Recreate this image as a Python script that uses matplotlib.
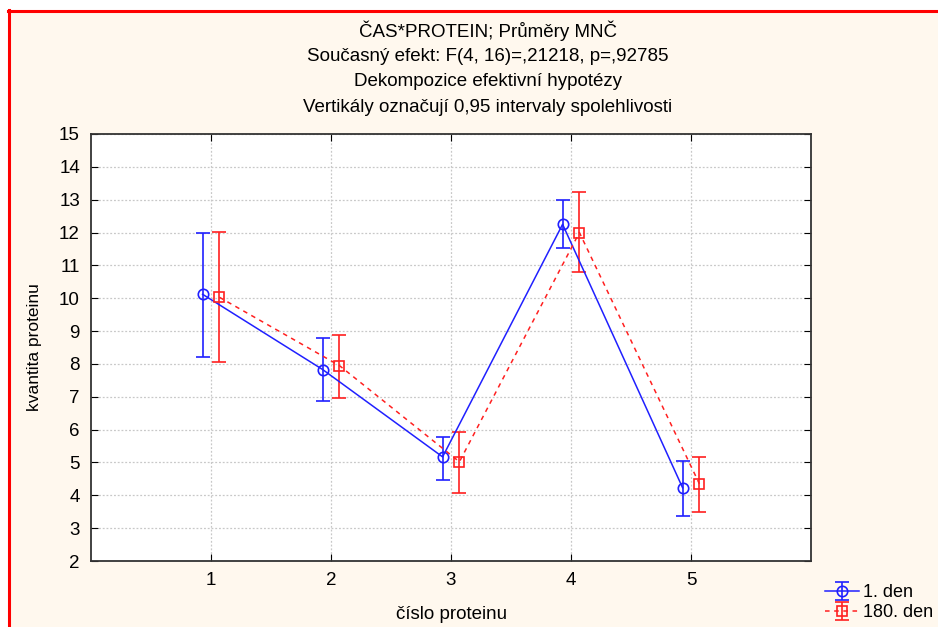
import matplotlib.pyplot as plt
from matplotlib.patches import Rectangle
import numpy as np

# data
protein = [1, 2, 3, 4, 5]
day1_mean = [10.12, 7.83, 5.17, 12.25, 4.23]
day1_low = [8.22, 6.87, 4.48, 11.52, 3.38]
day1_high = [11.98, 8.78, 5.76, 12.98, 5.03]
day180_mean = [10.03, 7.95, 5.02, 12.0, 4.35]
day180_low = [8.07, 6.97, 4.08, 10.8, 3.48]
day180_high = [12.02, 8.88, 5.94, 13.23, 5.17]

title_lines = ['ČAS*PROTEIN; Průměry MNČ',
               'Současný efekt: F(4, 16)=,21218, p=,92785',
               'Dekompozice efektivní hypotézy',
               'Vertikály označují 0,95 intervaly spolehlivosti']

plt.rcParams['font.family'] = ['Liberation Sans', 'DejaVu Sans']
FS = 13.5

W, H = 938, 627
fig = plt.figure(figsize=(W / 100, H / 100), dpi=100)
fig.patch.set_facecolor('white')

# cream panel with red border on top/left
bg = Rectangle((9 / W, 0), 1, 1 - 11 / H, transform=fig.transFigure,
               facecolor='#fff8ee', edgecolor='none', zorder=-5)
fig.patches.append(bg)
fig.lines.append(plt.Line2D([9 / W, 9 / W], [0, 1 - 10 / H], transform=fig.transFigure,
                            color='red', lw=2.2, zorder=-4))
fig.lines.append(plt.Line2D([8 / W, 1], [1 - 11 / H, 1 - 11 / H], transform=fig.transFigure,
                            color='red', lw=2.2, zorder=-4))

ax = fig.add_axes([91 / W, 1 - 561 / H, 720 / W, 427 / H])
ax.set_facecolor('white')

x = np.array(protein)
off = 0.07
m1 = np.array(day1_mean)
m2 = np.array(day180_mean)
e1 = [m1 - np.array(day1_low), np.array(day1_high) - m1]
e2 = [m2 - np.array(day180_low), np.array(day180_high) - m2]

h1 = ax.errorbar(x - off, m1, yerr=e1, color='#2020ff', lw=1.1, marker='o', ms=7.5,
                 mfc='none', mec='#2020ff', mew=1.2, capsize=5, elinewidth=1.2, capthick=1.2,
                 label='1. den')
h2 = ax.errorbar(x + off, m2, yerr=e2, color='#ff2020', lw=1.1, ls=(0, (3, 3)), marker='s', ms=7.5,
                 mfc='none', mec='#ff2020', mew=1.2, capsize=5, elinewidth=1.2, capthick=1.2,
                 label='180. den')

ax.set_xlim(0, 6)
ax.set_ylim(2, 15)
ax.set_xticks(protein)
ax.set_yticks(range(2, 16))
ax.grid(True, color='#c8c8c8', ls=(0, (1.5, 1.5)), lw=0.9)
ax.set_axisbelow(True)
ax.tick_params(direction='in', length=5, labelsize=FS, top=True, right=True, pad=8)
for s in ax.spines.values():
    s.set_linewidth(1.3)
    s.set_color('#333333')

ax.set_xlabel('číslo proteinu', fontsize=FS, labelpad=12)
ax.set_ylabel('kvantita proteinu', fontsize=12.5, labelpad=12)

for i, t in enumerate(title_lines):
    fig.text(488 / W, 1 - (31 + i * 25.5) / H, t, ha='center', va='center', fontsize=FS)

fig.legend(handles=[h1, h2], loc='upper left', bbox_to_anchor=(824 / W, 1 - 583 / H),
           frameon=False, fontsize=13, handlelength=1.9, handletextpad=0.2,
           labelspacing=0.18, borderpad=0.05, borderaxespad=0)

fig.savefig('out.png', dpi=100, facecolor=fig.get_facecolor())
